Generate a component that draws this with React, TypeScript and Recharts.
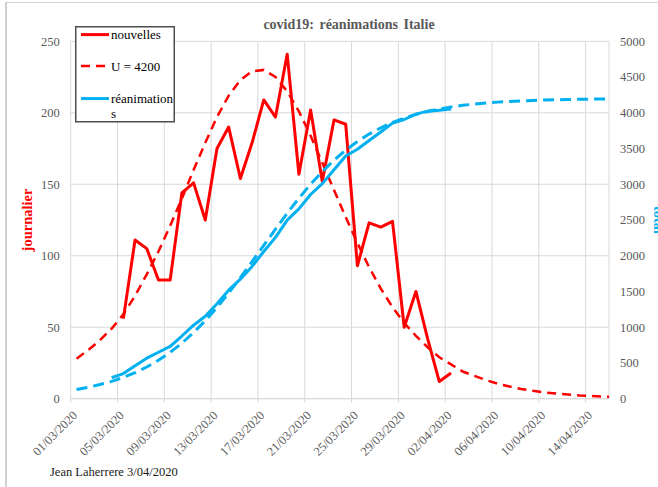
import { LineChart, Line, XAxis, YAxis, CartesianGrid, Legend } from 'recharts'

const days = [
  '01/03/2020', '02/03/2020', '03/03/2020', '04/03/2020', '05/03/2020', '06/03/2020', '07/03/2020', '08/03/2020',
  '09/03/2020', '10/03/2020', '11/03/2020', '12/03/2020', '13/03/2020', '14/03/2020', '15/03/2020', '16/03/2020',
  '17/03/2020', '18/03/2020', '19/03/2020', '20/03/2020', '21/03/2020', '22/03/2020', '23/03/2020', '24/03/2020',
  '25/03/2020', '26/03/2020', '27/03/2020', '28/03/2020', '29/03/2020', '30/03/2020', '31/03/2020', '01/04/2020',
  '02/04/2020', '03/04/2020', '04/04/2020', '05/04/2020', '06/04/2020', '07/04/2020', '08/04/2020', '09/04/2020',
  '10/04/2020', '11/04/2020', '12/04/2020', '13/04/2020', '14/04/2020', '15/04/2020', '16/04/2020',
]

// daily new ICU admissions (left axis)
const nouvelles = [
  null, null, null, null, 56, 111, 105, 83, 83, 144, 151, 125, 175, 190, 154, 179,
  209, 197, 241, 157, 202, 152, 195, 192, 93, 123, 120, 124, 50, 75, 42, 12,
  18, null, null, null, null, null, null, null, null, null, null, null, null, null, null,
]

// daily fit, U = 4200 (left axis)
const fitJour = [
  28, 34, 41, 49, 59, 72, 87, 103, 121, 140, 160, 179, 197, 212, 223, 229,
  230, 225, 215, 201, 184, 165, 146, 127, 109, 92, 77, 64, 53, 44, 36, 29,
  24, 19, 16, 13, 10.5, 8.5, 6.8, 5.5, 4.4, 3.6, 2.9, 2.3, 1.9, 1.5, 1.2,
]

// cumulated ICU (right axis)
const total = [
  null, null, null, 295, 351, 462, 567, 650, 733, 877, 1028, 1153, 1328, 1518, 1672, 1851,
  2060, 2257, 2498, 2655, 2857, 3009, 3204, 3396, 3489, 3612, 3732, 3856, 3906, 3981, 4023, 4035,
  4053, null, null, null, null, null, null, null, null, null, null, null, null, null, null,
]

// cumulated fit (right axis)
const fitTotal = [
  130, 160, 198, 243, 298, 364, 443, 538, 649, 777, 925, 1092, 1277, 1478, 1694, 1918,
  2146, 2373, 2594, 2804, 3000, 3177, 3336, 3477, 3598, 3702, 3790, 3864, 3925, 3977, 4018, 4053,
  4081, 4104, 4122, 4137, 4149, 4159, 4167, 4173, 4179, 4183, 4186, 4189, 4191, 4193, 4194,
]

const xTicks = [0, 4, 8, 12, 16, 20, 24, 28, 32, 36, 40, 44]
const leftTicks = [0, 50, 100, 150, 200, 250]
const rightTicks = [0, 500, 1000, 1500, 2000, 2500, 3000, 3500, 4000, 4500, 5000]

const data = days.map((day, i) => ({
  day,
  x: i + 0.5,
  nouvelles: nouvelles[i],
  fitJour: fitJour[i],
  total: total[i],
  fitTotal: fitTotal[i],
}))

const RED = '#FF0000'
const BLUE = '#00B0F0'
const GRID = '#D9D9D9'
const SERIF = '"Liberation Serif", "Times New Roman", serif'

function DateTick(props: any) {
  const { x, y, payload } = props
  const ax = x + 7.3
  const ay = y + 13.5
  return (
    <text
      x={ax}
      y={ay}
      transform={`rotate(-45 ${ax} ${ay})`}
      textAnchor="end"
      fontSize={12.5}
      fill="#595959"
      fontFamily={SERIF}
    >
      {days[payload.value]}
    </text>
  )
}

function LegendBox() {
  const txt = { fontSize: 13, fontFamily: SERIF, fill: '#000' }
  return (
    <svg width={100} height={97} style={{ display: 'block' }}>
      <rect x={0.75} y={0.75} width={98.5} height={95} fill="#fff" stroke="#4d4d4d" strokeWidth={1.5} />
      <line x1={6} y1={8.6} x2={34} y2={8.6} stroke={RED} strokeWidth={3} />
      <text x={36} y={12.5} {...txt}>nouvelles</text>
      <line x1={6} y1={40} x2={34} y2={40} stroke={RED} strokeWidth={2.5} strokeDasharray="9 6" />
      <text x={36} y={44.5} {...txt}>U = 4200</text>
      <line x1={6} y1={72.6} x2={34} y2={72.6} stroke={BLUE} strokeWidth={3} />
      <text x={36} y={77} {...txt}>réanimation</text>
      <text x={36} y={91.5} {...txt}>s</text>
    </svg>
  )
}

export default function App() {
  return (
    <div style={{ position: 'absolute', left: 0, top: 0, width: 658, height: 487, background: '#fff', overflow: 'hidden' }}>
      <div
        style={{
          position: 'absolute',
          left: 5,
          top: 2,
          right: -2,
          bottom: -2,
          borderLeft: '2px solid #D0D0D0',
          borderTop: '1px solid #D0D0D0',
        }}
      />
      <div style={{ position: 'absolute', left: 0, top: 0 }}>
        <LineChart width={658} height={487} data={data} margin={{ top: 41.3, right: 0, bottom: 28.3, left: 25.7 }}>
          <CartesianGrid yAxisId="left" stroke={GRID} strokeWidth={1} />
          <XAxis
            type="number"
            dataKey="x"
            domain={[0, 46]}
            ticks={xTicks}
            interval={0}
            allowDataOverflow
            height={60}
            tickSize={4}
            tickMargin={0}
            tickLine={{ stroke: GRID }}
            axisLine={{ stroke: GRID }}
            tick={<DateTick />}
          />
          <YAxis
            yAxisId="left"
            domain={[0, 250]}
            ticks={leftTicks}
            width={45}
            tickSize={6}
            tickMargin={5}
            tickLine={false}
            axisLine={false}
            tick={{ fontSize: 12.5, fill: '#595959', fontFamily: SERIF }}
          />
          <YAxis
            yAxisId="right"
            orientation="right"
            domain={[0, 5000]}
            ticks={rightTicks}
            width={49}
            tickSize={6}
            tickMargin={5}
            tickLine={false}
            axisLine={false}
            tick={{ fontSize: 12.5, fill: '#595959', fontFamily: SERIF, textAnchor: 'start' }}
          />
          <Legend
            layout="vertical"
            align="center"
            verticalAlign="middle"
            wrapperStyle={{ left: 75, top: 25.5, width: 100, height: 97 }}
            content={() => <LegendBox />}
          />
          <Line
            yAxisId="left"
            dataKey="nouvelles"
            stroke={RED}
            strokeWidth={3}
            strokeLinejoin="round"
            dot={false}
            isAnimationActive={false}
          />
          <Line
            yAxisId="left"
            dataKey="fitJour"
            stroke={RED}
            strokeWidth={2.5}
            strokeDasharray="9 6"
            dot={false}
            isAnimationActive={false}
          />
          <Line
            yAxisId="right"
            dataKey="total"
            stroke={BLUE}
            strokeWidth={3}
            strokeLinejoin="round"
            dot={false}
            isAnimationActive={false}
          />
          <Line
            yAxisId="right"
            dataKey="fitTotal"
            stroke={BLUE}
            strokeWidth={3}
            strokeDasharray="11 6"
            dot={false}
            isAnimationActive={false}
          />
        </LineChart>
      </div>
      <svg width={658} height={487} style={{ position: 'absolute', left: 0, top: 0, pointerEvents: 'none' }}>
        <text
          x={349}
          y={29}
          textAnchor="middle"
          fontSize={14}
          fontWeight="bold"
          fill="#595959"
          fontFamily={SERIF}
          wordSpacing={2}
        >
          covid19: réanimations Italie
        </text>
        <text
          transform="translate(32 220) rotate(-90)"
          textAnchor="middle"
          fontSize={14.5}
          fontWeight="bold"
          fill={RED}
          fontFamily={SERIF}
        >
          journalier
        </text>
        <text
          transform="translate(654 220) rotate(90)"
          textAnchor="middle"
          fontSize={14.5}
          fontWeight="bold"
          fill={BLUE}
          fontFamily={SERIF}
        >
          total
        </text>
        <text x={50} y={476} fontSize={12.5} fill="#1a1a1a" fontFamily={SERIF}>
          Jean Laherrere 3/04/2020
        </text>
      </svg>
    </div>
  )
}
